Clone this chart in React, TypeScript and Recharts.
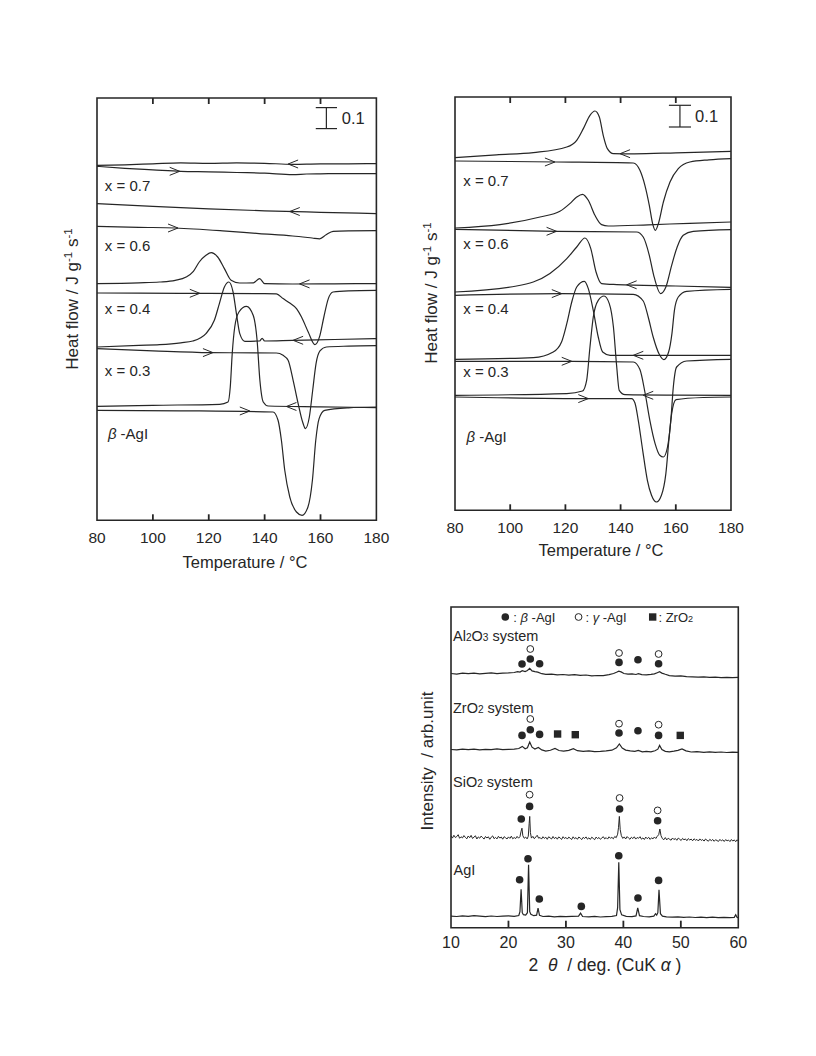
import React from 'react'
import {
  ComposedChart, Line, Scatter, XAxis, YAxis, ReferenceArea, ReferenceLine,
} from 'recharts'

const FONT = '"Liberation Sans", Arial, Helvetica, sans-serif'
const INK = '#262626'

// DSC curves: [temperature °C, heat flow offset]; y is in arbitrary units, 21 units = 0.1 J g-1 s-1
const TEMP_TICKS = [80, 100, 120, 140, 160, 180]

// left panel
const A_07_COOL = [[80, 355], [90, 355.5], [100, 356.5], [110, 357.5], [120, 357], [130, 357.5], [140, 357], [150, 356], [160, 356.5], [170, 356.5], [180, 356.7]]
const A_07_HEAT = [[80, 354], [90, 352], [100, 350.5], [110, 349], [120, 348.5], [130, 347.8], [140, 347.2], [150, 345.7], [155, 346.3], [160, 346.5], [170, 346.7], [180, 346.7]]
const A_06_COOL = [[80, 316.7], [100, 314], [120, 311.5], [140, 309.5], [160, 308], [180, 306.7]]
const A_06_HEAT = [[80, 294], [95, 293], [108, 292.3], [125, 289.5], [138, 286.7], [150, 284.3], [157, 282.3], [159.7, 281.5], [162, 285.5], [164.5, 289], [170, 289.5], [180, 289.7]]
const A_04_COOL = [[80, 236.7], [95, 237.5], [102.4, 238.3], [108, 240], [111.9, 243.3], [114.5, 249], [116.6, 258.3], [119, 265], [120.9, 267.7], [123.2, 263.3], [125.6, 251.7], [128, 240], [131, 237.3], [136, 237.5], [138.2, 241.7], [140, 236.7], [150, 236.3], [165, 236.5], [180, 236.7]]
const A_04_HEAT = [[80, 227.3], [110, 227], [140, 226.7], [144.2, 226.5], [146.6, 221.7], [149, 217.3], [151.4, 211.7], [153.2, 203.3], [155.6, 188.3], [158, 175.7], [159.8, 185], [161.2, 203.3], [162.8, 221.7], [164.5, 228.3], [170, 229.5], [180, 230]]
const A_03_COOL = [[80, 173.3], [95, 175], [102.4, 175.7], [110, 177.5], [114.3, 179.3], [119, 186.7], [122, 200], [123.8, 216.7], [125.6, 233.3], [127.2, 238.3], [128.7, 228.3], [129.9, 206.7], [131.1, 186.7], [132.9, 179], [138.2, 179.3], [139.1, 182], [140, 179.3], [150, 180], [165, 180.8], [180, 181.7]]
const A_03_HEAT = [[80, 171.7], [100, 169.5], [120.4, 167.7], [144.2, 167.3], [146.6, 165], [148.4, 160], [150.2, 140], [152, 116.7], [153.6, 98.3], [154.6, 91.7], [156, 103.3], [157.2, 130], [158.4, 156.7], [159.8, 169.3], [162.1, 173.3], [170, 174.2], [180, 174.7]]
const A_B_COOL = [[80, 114], [100, 115], [123.9, 116], [126.9, 118.3], [127.7, 133.3], [128.4, 166.7], [129.3, 193.3], [130.8, 208.3], [133.5, 214], [135.9, 205], [137.3, 180], [138.3, 140], [139.5, 118.3], [141.3, 114.3], [160, 113.5], [180, 112.7]]
const A_B_HEAT = [[80, 110], [110, 109.5], [143, 108.3], [144.8, 100], [146, 80], [147.2, 50], [149, 23.3], [151.4, 8.3], [153.4, 5], [155.5, 13.3], [157.1, 40], [158.3, 80], [159.5, 101.7], [161.5, 110], [170, 112.5], [180, 113.3]]
// [T, y, direction] (-1 cooling arrow "<", 1 heating arrow ">")
const A_ARROWS = [[148.4, 356.3, -1], [109.6, 349, 1], [149, 308.8, -1], [109, 292.3, 1], [152.5, 236.4, -1], [116.8, 227, 1], [150.2, 180, -1], [121.5, 167.7, 1], [147.8, 113.8, -1], [134.7, 109.3, 1]]
const A_LABELS = [[82.8, 335, 'x = 0.7'], [82.8, 275, 'x = 0.6'], [82.8, 212, 'x = 0.4'], [82.8, 150, 'x = 0.3'], [83.9, 86.7, 'β -AgI']]
const A_BAR = { x: 162.1, lo: 391.7, hi: 412.7, c0: 158.3, c1: 165.9, tx: 167.6 }

// right panel
const B_07_COOL = [[80, 352.7], [95, 355.5], [108.4, 357.7], [120.5, 363.3], [124.1, 370], [126.5, 381.7], [128.9, 395], [130.7, 399.3], [132.3, 393.3], [133.7, 375], [135.2, 361.7], [137.4, 356.7], [145, 356.5], [160, 357.5], [180, 359]]
const B_07_HEAT = [[80, 349.3], [100, 348.8], [116.8, 348.3], [144.6, 347.3], [147, 340], [148.8, 325], [150.4, 305], [151.6, 286.7], [152.6, 280], [153.7, 286.7], [155.5, 308.3], [157.9, 328.3], [160.9, 341.7], [165.1, 348.3], [172, 350.5], [180, 351.7]]
const B_06_COOL = [[80, 282.3], [96.3, 285.7], [110.8, 293.3], [118, 299], [121.6, 306.7], [124.1, 313.3], [126.2, 316], [128.3, 310], [130.7, 295], [133.1, 285.7], [135.5, 284.3], [150, 285.5], [165, 287], [180, 288.3]]
const B_06_HEAT = [[80, 281], [116.8, 279], [145.8, 278.3], [148.2, 273.3], [150.4, 255], [152, 235], [154.5, 216.7], [156.4, 223.3], [158.5, 245], [160.5, 263.3], [162.7, 275], [166.3, 279], [180, 280.7]]
const B_04_COOL = [[80, 218.3], [102.3, 224.3], [114.4, 236.7], [120.5, 251.7], [124.1, 263.3], [127.1, 272.3], [129.2, 261.7], [131.1, 238.3], [133.1, 226.7], [138.6, 225.7], [160, 224.3], [180, 223]]
const B_04_HEAT = [[80, 215], [118, 216.7], [144.6, 216], [148.2, 209.3], [150, 193.3], [151.8, 173.3], [154, 156], [155.7, 150.7], [157.4, 158.3], [158.6, 176.7], [159.5, 200], [160.9, 213.3], [163.9, 219], [180, 221]]
const B_03_COOL = [[80, 151], [108.4, 152.7], [115.6, 158.3], [118.6, 168.3], [120.5, 186.7], [122.3, 208.3], [124.1, 223.3], [126.9, 229], [128.3, 221.7], [130.1, 200], [131.9, 173.3], [133.5, 158.3], [136.2, 155], [160, 155], [180, 155]]
const B_03_HEAT = [[80, 149], [122.3, 149], [144.6, 148.3], [147, 140.7], [148.8, 118.3], [150.6, 90], [152.5, 66.7], [154.2, 55], [155.5, 53.3], [157, 63.3], [158.2, 90], [159.1, 123.3], [160.3, 143.3], [163.9, 149.3], [180, 151]]
const B_B_COOL = [[80, 115], [120.5, 116.7], [126.2, 119.3], [127.7, 130], [128.9, 163.3], [130.1, 193.3], [131.9, 210], [134, 214.3], [135.9, 206.7], [137.4, 183.3], [138.6, 143.3], [139.5, 120], [141.6, 115.7], [160, 115.2], [180, 115]]
const B_B_HEAT = [[80, 113.3], [128.9, 111.7], [144, 111.7], [145.2, 107.3], [146.4, 90], [148, 60], [149.7, 30], [151.2, 15], [153, 8.3], [154.8, 15], [156.4, 36.7], [157.6, 73.3], [158.5, 96.7], [160.1, 110.7], [170, 112.8], [180, 113.3]]
const B_ARROWS = [[139.8, 356.6, -1], [116.2, 348.3, 1], [116.8, 279, 1], [142.2, 225.5, -1], [118.7, 216.7, 1], [144.6, 155, -1], [122.3, 149, 1], [148.2, 115, -1], [128.3, 111.7, 1]]
const B_LABELS = [[83, 330, 'x = 0.7'], [83, 266.7, 'x = 0.6'], [83, 201.7, 'x = 0.4'], [83, 138.3, 'x = 0.3'], [84.2, 73.3, 'β -AgI']]
const B_BAR = { x: 161.5, lo: 383.3, hi: 405, c0: 157.5, c1: 165.5, tx: 167 }

// XRD patterns: [2θ, intensity offset]
const XRD_TICKS = [10, 20, 30, 40, 50, 60]
const XRD_AL2O3 = [[10, 254.2], [11, 253.6], [12, 254.5], [13, 254.0], [14, 254.6], [15, 253.8], [16, 254.3], [17, 254.9], [18, 254.1], [19, 254.6], [20, 254.8], [21, 255.2], [21.6, 256.0], [22.0, 255.6], [22.4, 257.0], [22.9, 256.2], [23.3, 257.2], [23.7, 259.3], [24.1, 256.8], [24.6, 256.0], [25.1, 255.5], [25.8, 254.0], [26.5, 253.4], [27.5, 253.6], [28.5, 252.8], [29.5, 253.2], [30.5, 252.6], [31.5, 253.0], [32.5, 252.4], [33.5, 252.7], [34.5, 251.8], [35.5, 252.2], [36.5, 252.0], [37.5, 253.1], [38.3, 254.2], [38.8, 255.4], [39.2, 256.5], [39.6, 255.8], [40.1, 254.2], [40.8, 253.5], [41.5, 253.9], [42.2, 253.2], [42.6, 254.0], [43.2, 253.1], [44, 252.9], [44.8, 253.3], [45.4, 253.8], [45.9, 255.0], [46.3, 256.0], [46.7, 254.6], [47.3, 253.4], [48, 252.1], [49, 251.6], [50, 251.9], [51, 251.0], [52, 250.8], [53, 250.6], [54, 250.9], [55, 250.3], [56, 250.6], [57, 250.1], [58, 250.4], [59, 250.0], [60, 250.3]]
const XRD_ZRO2 = [[10, 178.2], [11, 177.8], [12, 178.5], [13, 178.0], [14, 178.6], [15, 177.9], [16, 178.4], [17, 178.1], [18, 178.8], [19, 178.0], [20, 178.3], [21, 178.6], [21.8, 179.2], [22.4, 181.3], [22.9, 178.9], [23.3, 180.0], [23.7, 185.7], [24.1, 180.5], [24.6, 178.6], [25.2, 180.3], [25.8, 177.8], [26.5, 176.5], [27.3, 177.4], [28.1, 179.2], [28.8, 177.2], [29.6, 176.6], [30.5, 177.3], [31.3, 179.0], [32.0, 177.0], [33, 176.4], [34, 176.8], [35, 176.0], [36, 176.3], [37, 176.8], [38, 177.5], [38.8, 179.8], [39.3, 183.7], [39.8, 179.6], [40.4, 177.6], [41.2, 176.9], [42, 176.4], [42.6, 177.3], [43.3, 175.9], [44, 176.3], [44.8, 175.8], [45.5, 176.9], [46.0, 178.5], [46.3, 182.3], [46.7, 178.2], [47.3, 176.4], [48, 175.9], [48.8, 176.6], [49.5, 177.4], [50.2, 178.7], [50.9, 176.8], [51.8, 175.7], [52.8, 176.0], [54, 175.4], [55, 175.8], [56, 175.3], [57, 175.7], [58, 175.2], [59, 175.6], [60, 175.4]]
const XRD_SIO2 = [[10, 91.8], [10.25, 89.6], [10.5, 92.4], [10.75, 90.2], [11, 91.1], [11.25, 93.0], [11.5, 89.4], [11.75, 90.9], [12, 89.8], [12.25, 92.1], [12.5, 90.3], [12.75, 88.9], [13, 91.7], [13.25, 90.0], [13.5, 92.3], [13.75, 89.2], [14, 90.6], [14.25, 91.9], [14.5, 88.7], [14.75, 90.8], [15, 89.5], [15.25, 91.6], [15.5, 90.1], [15.75, 88.6], [16, 91.2], [16.25, 89.7], [16.5, 90.9], [16.75, 88.4], [17, 90.5], [17.25, 91.8], [17.5, 89.0], [17.75, 90.3], [18, 88.8], [18.25, 91.4], [18.5, 89.6], [18.75, 90.7], [19, 88.5], [19.25, 91.0], [19.5, 89.9], [19.75, 88.7], [20, 90.8], [20.25, 89.3], [20.5, 91.5], [20.75, 88.9], [21, 90.2], [21.25, 89.1], [21.5, 91.3], [21.75, 89.5], [22.0, 91.0], [22.2, 96.5], [22.35, 99.5], [22.5, 92.0], [22.75, 89.4], [23.0, 90.6], [23.25, 88.8], [23.45, 91.5], [23.6, 104], [23.7, 111.3], [23.82, 95], [24.0, 89.6], [24.25, 91.3], [24.5, 89.0], [24.75, 90.7], [25.0, 92.4], [25.25, 89.5], [25.5, 90.2], [25.75, 88.6], [26, 91.0], [26.25, 89.3], [26.5, 90.5], [26.75, 88.4], [27, 90.9], [27.25, 89.8], [27.5, 88.7], [27.75, 91.2], [28, 89.1], [28.25, 90.4], [28.5, 88.5], [28.75, 90.8], [29, 89.6], [29.25, 88.3], [29.5, 91.0], [29.75, 89.2], [30, 90.3], [30.25, 88.6], [30.5, 90.6], [30.75, 89.4], [31, 88.2], [31.25, 90.9], [31.5, 89.0], [31.75, 90.1], [32, 88.4], [32.25, 90.7], [32.5, 89.5], [32.75, 88.1], [33, 90.4], [33.25, 89.2], [33.5, 90.8], [33.75, 88.5], [34, 89.9], [34.25, 88.3], [34.5, 90.5], [34.75, 89.3], [35, 88.0], [35.25, 90.6], [35.5, 89.1], [35.75, 90.2], [36, 88.4], [36.25, 89.7], [36.5, 91.0], [36.75, 88.8], [37, 90.1], [37.25, 88.6], [37.5, 90.9], [37.75, 89.4], [38, 90.3], [38.25, 88.9], [38.5, 91.2], [38.75, 90.0], [39.0, 93.5], [39.15, 100], [39.3, 111.3], [39.45, 98], [39.65, 92.0], [39.9, 89.3], [40.15, 90.8], [40.4, 88.7], [40.65, 91.1], [40.9, 89.6], [41.15, 88.4], [41.4, 90.5], [41.65, 89.1], [41.9, 90.9], [42.15, 88.6], [42.4, 90.2], [42.65, 89.4], [42.9, 91.0], [43.15, 88.5], [43.4, 89.8], [43.65, 88.2], [43.9, 90.6], [44.15, 89.0], [44.4, 90.4], [44.65, 88.3], [44.9, 89.9], [45.15, 88.8], [45.4, 90.7], [45.65, 89.2], [45.9, 91.4], [46.15, 93.0], [46.35, 98.7], [46.55, 92.0], [46.8, 89.0], [47.05, 88.0], [47.3, 90.1], [47.55, 87.8], [47.8, 89.5], [48.05, 88.4], [48.3, 87.5], [48.55, 89.7], [48.8, 88.1], [49.05, 89.2], [49.3, 87.4], [49.55, 89.6], [49.8, 88.5], [50.05, 87.2], [50.3, 89.3], [50.55, 87.9], [50.8, 88.8], [51.05, 87.0], [51.3, 89.1], [51.55, 87.7], [51.8, 88.6], [52.05, 86.9], [52.3, 88.9], [52.55, 87.5], [52.8, 88.3], [53.05, 86.7], [53.3, 88.8], [53.55, 87.3], [53.8, 88.1], [54.05, 86.6], [54.3, 88.7], [54.55, 87.4], [54.8, 86.5], [55.05, 88.4], [55.3, 87.0], [55.55, 88.2], [55.8, 86.4], [56.05, 88.0], [56.3, 87.1], [56.55, 86.3], [56.8, 88.3], [57.05, 86.8], [57.3, 87.9], [57.55, 86.2], [57.8, 88.1], [58.05, 86.9], [58.3, 87.6], [58.55, 86.1], [58.8, 88.2], [59.05, 86.6], [59.3, 87.8], [59.55, 86.0], [59.8, 87.9], [60, 86.7]]
const XRD_AGI = [[10, 11.6], [11, 11.2], [12, 11.8], [13, 11.3], [14, 12.1], [15, 11.5], [16, 11.0], [17, 11.7], [18, 11.2], [19, 11.5], [20, 11.9], [21, 11.4], [21.8, 12.2], [22.0, 16], [22.2, 38.5], [22.4, 15], [22.6, 13.0], [23.0, 12.6], [23.3, 15], [23.5, 63], [23.7, 16], [23.9, 13.5], [24.4, 12.0], [24.9, 12.5], [25.15, 19.5], [25.4, 12.3], [26, 11.2], [27, 11.6], [28, 10.9], [29, 11.4], [30, 11.0], [31, 11.3], [32.2, 11.5], [32.55, 14.5], [32.9, 11.2], [34, 10.8], [35, 11.3], [36, 10.7], [37, 11.1], [38, 11.4], [38.8, 12.2], [39.0, 20], [39.2, 65.5], [39.4, 18], [39.7, 12.8], [40.5, 11.4], [41.5, 11.0], [42.2, 11.8], [42.5, 19.7], [42.8, 12.0], [43.5, 11.2], [44.5, 10.8], [45.3, 11.6], [45.6, 14.0], [45.8, 12.5], [46.0, 15], [46.2, 38], [46.45, 14], [46.8, 11.5], [47.5, 10.9], [48.5, 10.5], [49.5, 10.9], [50.5, 10.3], [51.5, 10.7], [52.5, 10.2], [53.5, 10.6], [54.5, 10.1], [55.5, 10.5], [56.5, 10.0], [57.5, 10.4], [58.5, 10.1], [59.3, 10.3], [59.55, 13.0], [59.8, 10.2], [60, 10.0]]

const BETA_MARKS = [[22.36, 263.7], [23.8, 268.7], [25.42, 264], [39.24, 265.3], [42.54, 268], [46.13, 264], [22.36, 192.3], [23.8, 198], [25.42, 193.3], [39.24, 194.7], [42.54, 197], [46.13, 192.3], [22.23, 108.7], [23.68, 121.3], [39.34, 118.7], [45.96, 107], [21.94, 48], [23.4, 69], [25.37, 28.7], [32.68, 21.3], [39.2, 72], [42.54, 29.7], [46.13, 47.3], [19.45, 310.7]]
const GAMMA_MARKS = [[23.8, 278.7], [39.24, 274.7], [46.13, 273.7], [23.8, 208.7], [39.24, 204], [46.13, 203], [23.68, 133], [39.34, 129.7], [45.96, 117.3], [32.2, 310.7]]
const ZRO2_MARKS = [[28.55, 193.7], [31.63, 193], [49.9, 192.3], [45.1, 310.7]]
const XRD_LABELS = [[10.35, 292, 'Al2O3 system'], [10.35, 219.5, 'ZrO2 system'], [10.35, 146, 'SiO2 system'], [10.45, 57.7, 'AgI']]
const XRD_LEGEND = [[20.85, 310.7, ': β -AgI'], [33.4, 310.7, ': γ -AgI'], [46.1, 310.7, ': ZrO2']]

const pts = (a: number[][]) => a.map(([x, y]) => ({ x, y }))
const txt = (a: any[][]) => a.map(([x, y, text]) => ({ x, y, text }))

const rich = (s: string, smallDigits: boolean) =>
  s.split(/([0-9]+|[βγ])/).filter(Boolean).map((part, i) => {
    if (/^[βγ]$/.test(part)) return <tspan key={i} fontStyle="italic">{part}</tspan>
    if (smallDigits && /^[0-9]+$/.test(part)) return <tspan key={i} fontSize="0.7em">{part}</tspan>
    return <tspan key={i}>{part}</tspan>
  })

const labelShape = (size: number, small: boolean) => (p: any) => (
  <text x={p.cx} y={p.cy + size * 0.36} fontSize={size} fontFamily={FONT} fill={INK}>
    {rich(p.payload.text, small)}
  </text>
)

const arrowShape = (p: any) => {
  const d = p.payload.d
  return (
    <polyline points={`${p.cx - 10 * d},${p.cy - 4} ${p.cx},${p.cy} ${p.cx - 10 * d},${p.cy + 4}`}
      fill="none" stroke={INK} strokeWidth={1} />
  )
}

const labelTick = (dy: number, size: number) => (p: any) => (
  <text x={p.x} y={p.y + dy + size * 0.36} textAnchor="middle" fontSize={size} fontFamily={FONT} fill={INK}>
    {p.payload.value}
  </text>
)

// inward tick marks on the frame as short two-point lines (1 y unit = 1 px in every panel)
const tickLines = (ticks: number[], yEdge: number, len: number, key: string) =>
  ticks.slice(1, -1).map(t => (
    <Line key={`${key}${t}`} data={[{ x: t, y: yEdge }, { x: t, y: yEdge + len }]} dataKey="y" type="linear"
      stroke={INK} strokeWidth={1.8} dot={false} activeDot={false} isAnimationActive={false} />
  ))

type Box = { left: number; top: number; w: number; h: number }

function Frame({ box, children }: { box: Box; children: React.ReactNode }) {
  return (
    <div style={{ position: 'absolute', left: box.left - 40, top: box.top - 20 }}>
      {children}
    </div>
  )
}

type DscProps = {
  box: Box
  curves: number[][][]
  arrows: number[][]
  labels: any[][]
  bar: { x: number; lo: number; hi: number; c0: number; c1: number; tx: number }
}

function DscPanel({ box, curves, arrows, labels, bar }: DscProps) {
  const arrowData = arrows.map(([x, y, d]) => ({ x, y, d }))
  const barText = [{ x: bar.tx, y: (bar.lo + bar.hi) / 2, text: '0.1' }]
  return (
    <Frame box={box}>
      <ComposedChart width={box.w + 60} height={box.h + 60} margin={{ top: 20, right: 20, bottom: 10, left: 40 }}>
        <XAxis dataKey="x" type="number" domain={[80, 180]} ticks={TEMP_TICKS} interval={0}
          height={30} tickSize={0} tickMargin={0} axisLine={false} tickLine={false}
          tick={labelTick(16.7, 15.5)} />
        <YAxis hide type="number" domain={[0, box.h]} />
        <ReferenceArea x1={80} x2={180} y1={0} y2={box.h} fill="none" stroke={INK} strokeWidth={1.6} />
        {tickLines(TEMP_TICKS, 0, 6, 'b')}
        {tickLines(TEMP_TICKS, box.h, -6, 't')}
        {curves.map((c, i) => (
          <Line key={i} data={pts(c)} dataKey="y" type="monotone" stroke={INK} strokeWidth={1.2}
            dot={false} activeDot={false} isAnimationActive={false} />
        ))}
        <Scatter data={arrowData} dataKey="y" shape={arrowShape} isAnimationActive={false} />
        <Scatter data={txt(labels)} dataKey="y" shape={labelShape(15, false)} isAnimationActive={false} />
        <Scatter data={barText} dataKey="y" shape={labelShape(16.5, false)} isAnimationActive={false} />
        <ReferenceLine segment={[{ x: bar.x, y: bar.lo }, { x: bar.x, y: bar.hi }]} stroke={INK} strokeWidth={1.2} />
        <ReferenceLine segment={[{ x: bar.c0, y: bar.lo }, { x: bar.c1, y: bar.lo }]} stroke={INK} strokeWidth={1.2} />
        <ReferenceLine segment={[{ x: bar.c0, y: bar.hi }, { x: bar.c1, y: bar.hi }]} stroke={INK} strokeWidth={1.2} />
      </ComposedChart>
    </Frame>
  )
}

const filledDot = (p: any) => <circle cx={p.cx} cy={p.cy} r={3.8} fill={INK} />
const openDot = (p: any) => <circle cx={p.cx} cy={p.cy} r={3.4} fill="#fff" stroke={INK} strokeWidth={1} />
const square = (p: any) => <rect x={p.cx - 3.7} y={p.cy - 3.7} width={7.4} height={7.4} fill={INK} />

function XrdPanel({ box }: { box: Box }) {
  const patterns = [XRD_AL2O3, XRD_ZRO2, XRD_AGI]
  return (
    <Frame box={box}>
      <ComposedChart width={box.w + 60} height={box.h + 60} margin={{ top: 20, right: 20, bottom: 10, left: 40 }}>
        <XAxis dataKey="x" type="number" domain={[10, 60]} ticks={XRD_TICKS} interval={0}
          height={30} tickSize={0} tickMargin={0} axisLine={false} tickLine={false}
          tick={labelTick(14.6, 16)} />
        <YAxis hide type="number" domain={[0, box.h]} />
        <ReferenceArea x1={10} x2={60} y1={0} y2={box.h} fill="none" stroke={INK} strokeWidth={1.6} />
        {tickLines(XRD_TICKS, 0, 7, 'b')}
        {patterns.map((c, i) => (
          <Line key={i} data={pts(c)} dataKey="y" type="linear" stroke={INK} strokeWidth={1.2}
            dot={false} activeDot={false} isAnimationActive={false} />
        ))}
        <Line data={pts(XRD_SIO2)} dataKey="y" type="linear" stroke={INK} strokeWidth={1}
          dot={false} activeDot={false} isAnimationActive={false} />
        <Scatter data={pts(BETA_MARKS)} dataKey="y" shape={filledDot} isAnimationActive={false} />
        <Scatter data={pts(GAMMA_MARKS)} dataKey="y" shape={openDot} isAnimationActive={false} />
        <Scatter data={pts(ZRO2_MARKS)} dataKey="y" shape={square} isAnimationActive={false} />
        <Scatter data={txt(XRD_LABELS)} dataKey="y" shape={labelShape(14.5, true)} isAnimationActive={false} />
        <Scatter data={txt(XRD_LEGEND)} dataKey="y" shape={labelShape(13, true)} isAnimationActive={false} />
      </ComposedChart>
    </Frame>
  )
}

function Title({ x, y, size, rotate, children }: { x: number; y: number; size: number; rotate?: boolean; children: React.ReactNode }) {
  return (
    <div style={{
      position: 'absolute', left: x, top: y, fontFamily: FONT, fontSize: size, color: INK,
      whiteSpace: 'nowrap', lineHeight: 1,
      transform: `translate(-50%, -50%)${rotate ? ' rotate(-90deg)' : ''}`,
    }}>{children}</div>
  )
}

const sup = (s: string) => <span style={{ fontSize: '0.68em', verticalAlign: '0.55em' }}>{s}</span>

export default function App() {
  const heatFlow = <>Heat flow / J g{sup('-1')} s{sup('-1')}</>
  return (
    <div style={{ position: 'absolute', left: 0, top: 0, width: 816, height: 1056, background: '#fff' }}>
      <DscPanel box={{ left: 97.3, top: 97.7, w: 279.4, h: 422.3 }}
        curves={[A_07_COOL, A_07_HEAT, A_06_COOL, A_06_HEAT, A_04_COOL, A_04_HEAT, A_03_COOL, A_03_HEAT, A_B_COOL, A_B_HEAT]}
        arrows={A_ARROWS} labels={A_LABELS} bar={A_BAR} />
      <DscPanel box={{ left: 455, top: 96.7, w: 276, h: 413.3 }}
        curves={[B_07_COOL, B_07_HEAT, B_06_COOL, B_06_HEAT, B_04_COOL, B_04_HEAT, B_03_COOL, B_03_HEAT, B_B_COOL, B_B_HEAT]}
        arrows={B_ARROWS} labels={B_LABELS} bar={B_BAR} />
      <XrdPanel box={{ left: 450.7, top: 607, w: 287.3, h: 320.7 }} />

      <Title x={72} y={299} size={17} rotate>{heatFlow}</Title>
      <Title x={431} y={293} size={17} rotate>{heatFlow}</Title>
      <Title x={245} y={562} size={16.5}>Temperature / °C</Title>
      <Title x={601} y={550} size={16.5}>Temperature / °C</Title>
      <Title x={427} y={761} size={17} rotate>Intensity&nbsp; / arb.unit</Title>
      <Title x={605} y={966} size={17.5}>2&nbsp; <i>θ</i>&nbsp; / deg. (CuK <i>α</i> )</Title>
    </div>
  )
}
